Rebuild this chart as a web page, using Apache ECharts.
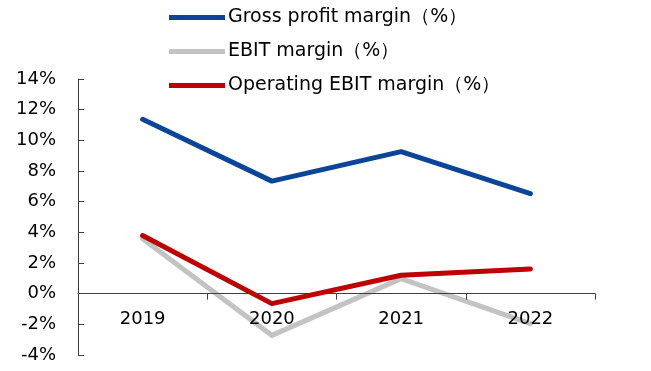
<!DOCTYPE html>
<html>
<head>
<meta charset="utf-8">
<script src="https://cdn.jsdelivr.net/npm/echarts@6/dist/echarts.min.js"></script>
<style>
  html, body { margin: 0; padding: 0; background: #fff; }
  #chart { width: 651px; height: 371px; }
</style>
</head>
<body>
<div id="chart"></div>
<script>
// Years on the category axis
const years = ['2019', '2020', '2021', '2022'];

// Margins in percent
const grossMargin = [11.37, 7.34, 9.26, 6.52];
const ebitMargin = [3.58, -2.72, 0.98, -1.96];
const operatingEbitMargin = [3.79, -0.65, 1.20, 1.61];

const seriesNames = ['Gross profit margin（%）', 'EBIT margin（%）', 'Operating EBIT margin（%）'];
const seriesColors = ['#0a4599', '#c3c3c3', '#c00000'];

const font = 'DejaVu Sans';
const gridBottom = 16;
const chartHeight = 371;

const chart = echarts.init(document.getElementById('chart'), null, { renderer: 'canvas' });

function lineSeries(i, data) {
  return {
    name: seriesNames[i],
    type: 'line',
    data: data,
    symbol: 'none',
    z: 2,
    lineStyle: { width: 5, color: seriesColors[i], cap: 'round', join: 'round' },
    itemStyle: { color: seriesColors[i] }
  };
}

chart.setOption({
  animation: false,
  backgroundColor: '#ffffff',
  grid: { left: 78, right: 56, top: 79, bottom: gridBottom, containLabel: false, outerBoundsMode: 'none' },
  legend: {
    orient: 'vertical',
    left: 169,
    top: 8,
    padding: 0,
    itemWidth: 56,
    itemHeight: 5,
    itemGap: 15,
    icon: 'rect',
    data: seriesNames,
    textStyle: { fontFamily: font, fontSize: 19, color: '#000', padding: [0, 0, 0, -2] }
  },
  xAxis: {
    type: 'category',
    data: years,
    boundaryGap: true,
    z: 3,
    axisLine: { onZero: false, lineStyle: { color: '#404040', width: 1 } },
    axisTick: { show: true, alignWithLabel: false, length: 6, lineStyle: { color: '#404040' } },
    axisLabel: { fontFamily: font, fontSize: 18, color: '#000', margin: 17 },
    splitLine: { show: false }
  },
  yAxis: {
    type: 'value',
    min: -4,
    max: 14,
    interval: 2,
    axisLine: { show: true, lineStyle: { color: '#404040', width: 1 } },
    axisTick: { show: true, inside: true, length: 6, lineStyle: { color: '#404040' } },
    axisLabel: { fontFamily: font, fontSize: 18, color: '#000', margin: 22, formatter: '{value}%' },
    splitLine: { show: false }
  },
  series: [
    lineSeries(1, ebitMargin),
    lineSeries(2, operatingEbitMargin),
    lineSeries(0, grossMargin)
  ]
});

// Lift the category axis (line, ticks and labels) up to the 0% level
const zeroY = chart.convertToPixel({ yAxisIndex: 0 }, 0);
chart.setOption({ xAxis: { offset: zeroY - (chartHeight - gridBottom) } });
</script>
</body>
</html>
